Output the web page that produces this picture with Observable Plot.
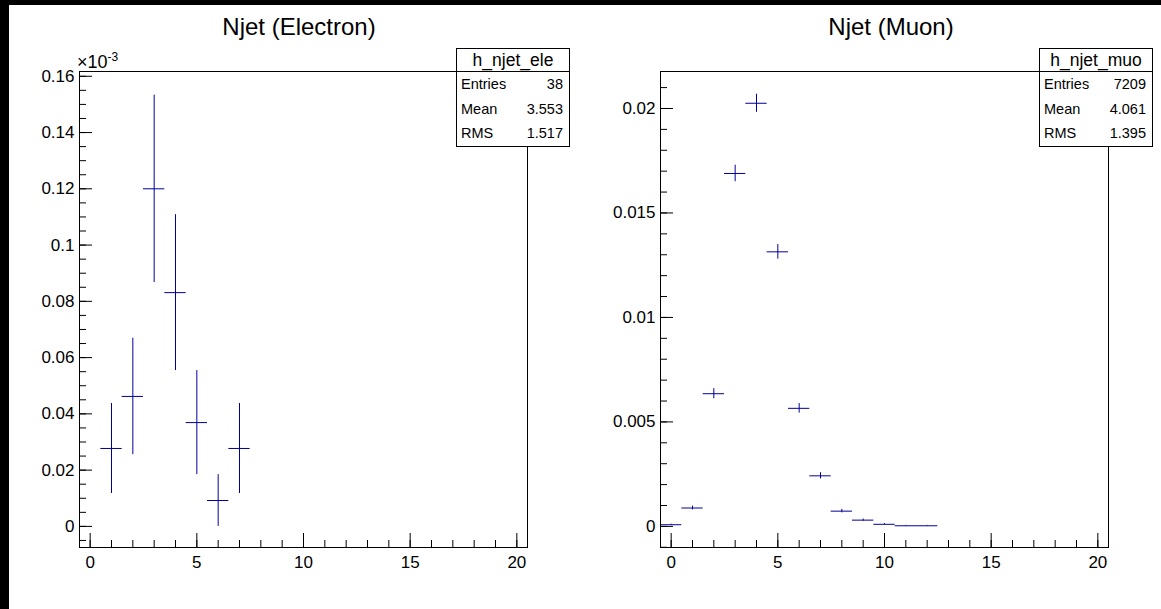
<!DOCTYPE html>
<html><head><meta charset="utf-8">
<script src="https://cdn.jsdelivr.net/npm/d3@7"></script>
<script src="https://cdn.jsdelivr.net/npm/@observablehq/plot@0.6"></script>
<style>
html,body{margin:0;padding:0;background:#fff;}
#page{position:relative;width:1161px;height:609px;overflow:hidden;background:#fff;font-family:"Liberation Sans",Arial,sans-serif;color:#000;}
.pad{position:absolute;top:0;width:580px;height:609px;}
.title{position:absolute;top:12px;font-size:24px;white-space:nowrap;transform:translateX(-50%);line-height:30px;}
.expo{position:absolute;font-size:18px;line-height:20px;white-space:nowrap;}
.expo .sp{font-size:12px;position:relative;top:-7px;}
.stats{position:absolute;top:48px;width:114px;height:99px;background:#fff;border:1px solid #000;box-sizing:border-box;}
.stats .hd{height:22px;line-height:23px;border-bottom:1px solid #000;text-align:center;font-size:17.5px;}
.stats .row{height:24.6px;line-height:24.6px;display:flex;justify-content:space-between;padding:0 6px 0 4px;font-size:14.5px;}
.blk{position:absolute;background:#000;}
</style>
</head><body>
<div id="page"></div>
<script>
// ---- data ----
const panelTitles = ["Njet (Electron)", "Njet (Muon)"];
const statNames = ["h_njet_ele", "h_njet_muo"];
const statLabels = ["Entries", "Mean", "RMS"];
const statEle = ["38", "3.553", "1.517"];
const statMuo = ["7209", "4.061", "1.395"];

// electron histogram, values in units of 10^-3
const eleBins = [1, 2, 3, 4, 5, 6, 7];
const eleVals = [0.0277, 0.0462, 0.1200, 0.0831, 0.0369, 0.0092, 0.0277];
const eleErrs = [0.0160, 0.0207, 0.0333, 0.0277, 0.0185, 0.0092, 0.0160];

// muon histogram
const muoBins = [0, 1, 2, 3, 4, 5, 6, 7, 8, 9, 10, 11, 12];
const muoVals = [0.00008, 0.00088, 0.00635, 0.01689, 0.02025, 0.01314, 0.00565, 0.00242, 0.00073, 0.00030, 0.00010, 0.00003, 0.00003];
const muoErrs = [0.000027, 0.00009, 0.000243, 0.000396, 0.000433, 0.000349, 0.000229, 0.00015, 0.000082, 0.000053, 0.00003, 0.000017, 0.000017];

// axis ticks
const xMajor = [0, 5, 10, 15, 20];
const xMinor = d3.range(0, 21);
const eleYMajor = [0, 0.02, 0.04, 0.06, 0.08, 0.1, 0.12, 0.14, 0.16];
const eleYMinor = d3.range(-1, 33).map(i => +(i * 0.005).toFixed(4));
const muoYMajor = [0, 0.005, 0.01, 0.015, 0.02];
const muoYMinor = d3.range(-1, 22).map(i => +(i * 0.001).toFixed(4));

const BLUE = "#000099";
const FONT = "Liberation Sans, Arial, sans-serif";

function panel({bins, vals, errs, yDomain, yMajor, yMinor}) {
  const rows = bins.map((b, i) => ({b, v: vals[i], e: errs[i]}));
  return Plot.plot({
    width: 580, height: 609,
    marginTop: 71, marginBottom: 62, marginLeft: 79, marginRight: 53,
    style: {background: "transparent", color: "#000", fontFamily: FONT},
    x: {domain: [-0.5, 20.5], axis: null, label: null},
    y: {domain: yDomain, axis: null, label: null},
    marks: [
      Plot.ruleY(rows, {y: "v", x1: d => d.b - 0.5, x2: d => d.b + 0.5, stroke: BLUE, strokeWidth: 1}),
      Plot.ruleX(rows, {x: "b", y1: d => d.v - d.e, y2: d => d.v + d.e, stroke: BLUE, strokeWidth: 1}),
      Plot.axisX({ticks: xMinor, tickSize: -7, tickFormat: () => "", label: null, anchor: "bottom"}),
      Plot.axisX({ticks: xMajor, tickSize: -14, tickFormat: () => "", label: null, anchor: "bottom"}),
      Plot.axisX({ticks: xMajor, tickSize: 0, tickPadding: 8, label: null, anchor: "bottom", fontSize: 17, fontFamily: FONT, tickFormat: d => String(d)}),
      Plot.axisY({ticks: yMinor, tickSize: -7, tickFormat: () => "", label: null, anchor: "left"}),
      Plot.axisY({ticks: yMajor, tickSize: -13, tickFormat: () => "", label: null, anchor: "left"}),
      Plot.axisY({ticks: yMajor, tickSize: 0, tickPadding: 5, label: null, anchor: "left", fontSize: 17, fontFamily: FONT, tickFormat: d => String(d)}),
      Plot.frame({stroke: "#000", strokeWidth: 1})
    ]
  });
}

const page = document.getElementById("page");
const cfgs = [
  {bins: eleBins, vals: eleVals, errs: eleErrs, yDomain: [-0.0075, 0.1617], yMajor: eleYMajor, yMinor: eleYMinor},
  {bins: muoBins, vals: muoVals, errs: muoErrs, yDomain: [-0.00101, 0.02177], yMajor: muoYMajor, yMinor: muoYMinor}
];
const stats = [statEle, statMuo];
const titleX = [299, 891];
const boxX = [456, 1039];
cfgs.forEach((c, k) => {
  const off = k * 581;
  const pad = document.createElement("div");
  pad.className = "pad";
  pad.style.left = off + "px";
  pad.appendChild(panel(c));
  page.appendChild(pad);

  const t = document.createElement("div");
  t.className = "title";
  t.style.left = titleX[k] + "px";
  t.textContent = panelTitles[k];
  page.appendChild(t);

  const s = document.createElement("div");
  s.className = "stats";
  s.style.left = boxX[k] + "px";
  let html = `<div class="hd">${statNames[k]}</div>`;
  statLabels.forEach((l, i) => { html += `<div class="row"><span>${l}</span><span>${stats[k][i]}</span></div>`; });
  s.innerHTML = html;
  page.appendChild(s);
});

const ex = document.createElement("div");
ex.className = "expo";
ex.style.left = "77px"; ex.style.top = "52px";
ex.innerHTML = "×10<span class=\"sp\">-3</span>";
page.appendChild(ex);

const b1 = document.createElement("div"); b1.className = "blk";
Object.assign(b1.style, {left: "0px", top: "0px", width: "1161px", height: "5px"});
const b2 = document.createElement("div"); b2.className = "blk";
Object.assign(b2.style, {left: "0px", top: "0px", width: "9px", height: "609px"});
page.appendChild(b1); page.appendChild(b2);
</script>
</body></html>
